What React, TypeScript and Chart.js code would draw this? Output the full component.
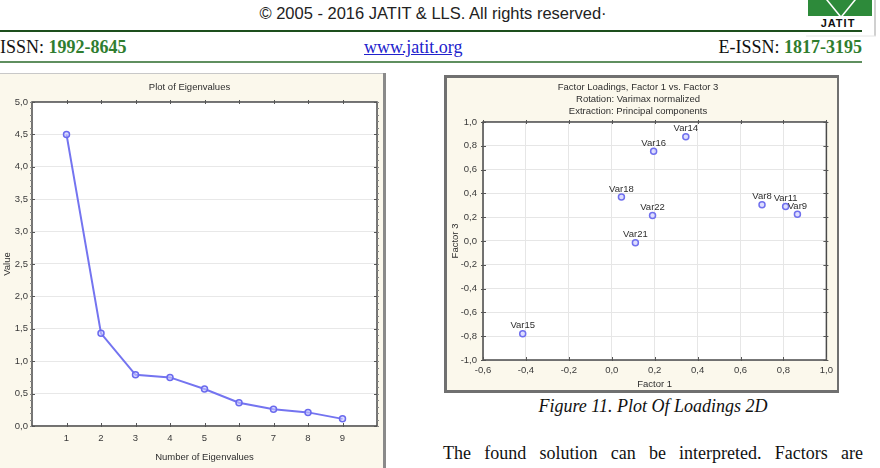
import React, { useEffect, useRef } from "react";
import { Chart, registerables } from "chart.js";

Chart.register(...registerables);

// ---------- Data ----------
const eigenNumbers = [1, 2, 3, 4, 5, 6, 7, 8, 9];
const eigenValues = [4.5, 1.43, 0.79, 0.75, 0.57, 0.36, 0.26, 0.21, 0.11];
const eigenXMin = 0;
const eigenXMax = 10;
const eigenYMin = 0;
const eigenYMax = 5;
const eigenYStep = 0.5;

const varNames = ["Var14", "Var16", "Var18", "Var22", "Var21", "Var8", "Var11", "Var9", "Var15"];
const factor1 = [0.345, 0.195, 0.045, 0.19, 0.11, 0.7, 0.81, 0.865, -0.415];
const factor3 = [0.875, 0.755, 0.37, 0.215, -0.015, 0.305, 0.29, 0.225, -0.78];
const loadXMin = -0.6;
const loadXMax = 1.0;
const loadYMin = -1.0;
const loadYMax = 1.0;
const loadStep = 0.2;

const loadTitleLines = [
  "Factor Loadings, Factor 1 vs. Factor 3",
  "Rotation: Varimax normalized",
  "Extraction: Principal components",
];

// ---------- Helpers ----------
const FONT = '"Liberation Sans", Arial, sans-serif';
const CF = { family: FONT, size: 9.5, lineHeight: 1.263 };
const TXT = "#2e2e2e";
const fmt = (v: number) => (Math.abs(v) < 1e-9 ? 0 : v).toFixed(1).replace(".", ",");

const makeFramePlugin = (minorY: number | null, xTickFilter: (v: number) => boolean) => ({
  id: "frame",
  beforeDatasetsDraw(chart: any) {
    const { ctx, chartArea: a } = chart;
    ctx.save();
    ctx.strokeStyle = "#4a4a4a";
    ctx.lineWidth = 1.5;
    ctx.strokeRect(a.left, a.top, a.width, a.height);
    ctx.lineWidth = 1;
    ctx.strokeStyle = "#555";
    const xs = chart.scales.x;
    const ys = chart.scales.y;
    xs.ticks.forEach((t: any) => {
      if (!xTickFilter(t.value)) return;
      const x = Math.round(xs.getPixelForValue(t.value)) + 0.5;
      ctx.beginPath();
      ctx.moveTo(x, a.top - 2);
      ctx.lineTo(x, a.top + 2);
      ctx.moveTo(x, a.bottom - 3);
      ctx.lineTo(x, a.bottom + 1);
      ctx.stroke();
    });
    ys.ticks.forEach((t: any) => {
      const y = Math.round(ys.getPixelForValue(t.value)) + 0.5;
      ctx.beginPath();
      ctx.moveTo(a.left - 2, y);
      ctx.lineTo(a.left + 3, y);
      ctx.moveTo(a.right - 3, y);
      ctx.lineTo(a.right + 2, y);
      ctx.stroke();
    });
    if (minorY) {
      ctx.strokeStyle = "#888";
      for (let v = ys.min; v <= ys.max + 1e-9; v += minorY) {
        const y = Math.round(ys.getPixelForValue(v)) + 0.5;
        ctx.beginPath();
        ctx.moveTo(a.left - 2, y);
        ctx.lineTo(a.left, y);
        ctx.moveTo(a.right, y);
        ctx.lineTo(a.right + 2, y);
        ctx.stroke();
      }
    }
    ctx.restore();
  },
});

const whiteAreaPlugin = {
  id: "whiteArea",
  beforeDraw(chart: any) {
    const { ctx, chartArea: a } = chart;
    ctx.save();
    ctx.fillStyle = "#ffffff";
    ctx.fillRect(a.left, a.top, a.width, a.height);
    ctx.restore();
  },
};

const pointLabelPlugin = {
  id: "pointLabels",
  afterDatasetsDraw(chart: any) {
    const { ctx } = chart;
    const meta = chart.getDatasetMeta(0);
    ctx.save();
    ctx.font = `9.5px ${FONT}`;
    ctx.fillStyle = TXT;
    ctx.textAlign = "center";
    ctx.textBaseline = "middle";
    meta.data.forEach((el: any, i: number) => {
      ctx.fillText(varNames[i], el.x, el.y - 8);
    });
    ctx.restore();
  },
};

function EigenChart() {
  const ref = useRef<HTMLCanvasElement | null>(null);
  useEffect(() => {
    if (!ref.current) return;
    const chart = new Chart(ref.current, {
      type: "line",
      data: {
        datasets: [
          {
            data: eigenNumbers.map((n, i) => ({ x: n, y: eigenValues[i] })),
            borderColor: "#7474f0",
            borderWidth: 2,
            pointRadius: 3,
            pointBorderWidth: 1.5,
            pointBorderColor: "#6a6aee",
            pointBackgroundColor: "rgba(200,200,255,0.6)",
            tension: 0,
          },
        ],
      },
      options: {
        animation: false,
        responsive: false,
        layout: { padding: { top: 0, right: 4, bottom: 0, left: 0 } },
        plugins: {
          legend: { display: false },
          tooltip: { enabled: false },
          title: {
            display: true,
            text: "Plot of Eigenvalues",
            color: TXT,
            font: { ...CF, weight: "normal" },
            padding: { top: 7, bottom: 9 },
          },
        },
        scales: {
          x: {
            type: "linear",
            min: eigenXMin,
            max: eigenXMax,
            afterFit: (s: any) => {
              s.height = 42;
            },
            ticks: {
              stepSize: 1,
              autoSkip: false,
              maxRotation: 0,
              padding: 6,
              color: "#3a3a3a",
              font: CF,
              callback: (v: any) => (v >= 1 && v <= 9 ? String(v) : ""),
            },
            grid: { display: true, color: "rgba(0,0,0,0)", drawTicks: false },
            border: { display: false },
            title: {
              display: true,
              text: "Number of Eigenvalues",
              color: TXT,
              font: CF,
              padding: { top: 0, bottom: 5 },
            },
          },
          y: {
            type: "linear",
            min: eigenYMin,
            max: eigenYMax,
            afterFit: (s: any) => {
              s.width = 32;
            },
            ticks: {
              stepSize: eigenYStep,
              padding: 4,
              color: "#3a3a3a",
              font: CF,
              callback: (v: any) => fmt(Number(v)),
            },
            grid: { color: "#e8e8e8", lineWidth: 1, drawTicks: false },
            border: { display: false },
            title: {
              display: true,
              text: "Value",
              color: TXT,
              font: CF,
              padding: { top: 1, bottom: 0 },
            },
          },
        },
      },
      plugins: [whiteAreaPlugin, makeFramePlugin(0.1, (v) => v >= 1 && v <= 9)],
    } as any);
    return () => chart.destroy();
  }, []);
  return (
    <canvas
      ref={ref}
      width={383}
      height={394}
      style={{ position: "absolute", left: 0, top: 74, width: 383, height: 394, background: "#fbf8ec" }}
    />
  );
}

function LoadingsChart() {
  const ref = useRef<HTMLCanvasElement | null>(null);
  useEffect(() => {
    if (!ref.current) return;
    const chart = new Chart(ref.current, {
      type: "scatter",
      data: {
        datasets: [
          {
            data: factor1.map((x, i) => ({ x, y: factor3[i] })),
            pointRadius: 3,
            pointBorderWidth: 1.5,
            pointBorderColor: "#7070ee",
            pointBackgroundColor: "rgba(200,200,255,0.6)",
            showLine: false,
          },
        ],
      },
      options: {
        animation: false,
        responsive: false,
        layout: { padding: { top: 0, right: 8, bottom: 0, left: 0 } },
        plugins: {
          legend: { display: false },
          tooltip: { enabled: false },
          title: {
            display: true,
            text: loadTitleLines,
            color: TXT,
            font: { ...CF, weight: "normal" },
            padding: { top: 3, bottom: 5 },
          },
        },
        scales: {
          x: {
            type: "linear",
            min: loadXMin,
            max: loadXMax,
            afterFit: (s: any) => {
              s.height = 30;
            },
            ticks: {
              stepSize: loadStep,
              autoSkip: false,
              maxRotation: 0,
              padding: 4,
              color: "#3a3a3a",
              font: CF,
              callback: (v: any) => fmt(Number(v)),
            },
            grid: { color: "#e6e6e6", lineWidth: 1, drawTicks: false },
            border: { display: false },
            title: {
              display: true,
              text: "Factor 1",
              color: TXT,
              font: CF,
              padding: { top: 0, bottom: 0 },
            },
          },
          y: {
            type: "linear",
            min: loadYMin,
            max: loadYMax,
            afterFit: (s: any) => {
              s.width = 36;
            },
            ticks: {
              stepSize: loadStep,
              padding: 6,
              color: "#3a3a3a",
              font: CF,
              callback: (v: any) => fmt(Number(v)),
            },
            grid: { color: "#e6e6e6", lineWidth: 1, drawTicks: false },
            border: { display: false },
            title: {
              display: true,
              text: "Factor 3",
              color: TXT,
              font: CF,
              padding: { top: 2, bottom: 0 },
            },
          },
        },
      },
      plugins: [whiteAreaPlugin, makeFramePlugin(null, () => true), pointLabelPlugin],
    } as any);
    return () => chart.destroy();
  }, []);
  return (
    <canvas
      ref={ref}
      width={390}
      height={312}
      style={{ position: "absolute", left: 447, top: 78, width: 390, height: 312, background: "#fbf8ec" }}
    />
  );
}

export default function App() {
  const serif = '"Liberation Serif", "Times New Roman", serif';
  const green = "#2f7d2f";
  return (
    <div
      style={{
        position: "fixed",
        left: 0,
        top: 0,
        width: 880,
        height: 468,
        overflow: "hidden",
        background: "#ffffff",
      }}
    >
      {/* Header */}
      <div
        style={{
          position: "absolute",
          left: 0,
          top: 3,
          width: 866,
          textAlign: "center",
          fontFamily: FONT,
          fontSize: 16.5,
          lineHeight: "20px",
          color: "#222",
        }}
      >
        © 2005 - 2016 JATIT &amp; LLS. All rights reserved·
      </div>
      {/* Logo */}
      <svg
        width={72}
        height={38}
        style={{ position: "absolute", left: 806, top: 0 }}
        viewBox="0 0 72 38"
      >
        <polygon points="22,0 48,0 35,16" fill="#2d8a3a" />
        <polygon points="2,0 20,0 33,16 2,16" fill="#2d8a3a" />
        <polygon points="50,0 66,0 66,16 37,16" fill="#2d8a3a" />
        <text x={32} y={27} textAnchor="middle" fontFamily={FONT} fontWeight="bold" fontSize={11} fill="#111" letterSpacing={1}>
          JATIT
        </text>
        <line x1={69} y1={0} x2={69} y2={36} stroke="#d0d0d0" strokeWidth={2} />
        <line x1={0} y1={36} x2={70} y2={36} stroke="#e4e4e4" strokeWidth={1} />
      </svg>
      <div style={{ position: "absolute", left: 0, top: 30, width: 862, height: 2, background: "#1d4f1d" }} />
      {/* ISSN row */}
      <div style={{ position: "absolute", left: 0, top: 36, fontFamily: serif, fontSize: 18, lineHeight: "22px", color: "#111" }}>
        ISSN: <span style={{ color: green, fontWeight: "bold" }}>1992-8645</span>
      </div>
      <div
        style={{
          position: "absolute",
          left: 364,
          top: 36,
          fontFamily: serif,
          fontSize: 18,
          lineHeight: "22px",
          color: "#2222cc",
          textDecoration: "underline",
        }}
      >
        www.jatit.org
      </div>
      <div
        style={{
          position: "absolute",
          right: 18,
          top: 36,
          fontFamily: serif,
          fontSize: 18,
          lineHeight: "22px",
          color: "#111",
          whiteSpace: "nowrap",
        }}
      >
        E-ISSN: <span style={{ color: green, fontWeight: "bold" }}>1817-3195</span>
      </div>
      <div style={{ position: "absolute", left: 0, top: 61, width: 862, height: 2, background: "#5f8f5f" }} />

      {/* Left panel */}
      <div style={{ position: "absolute", left: 0, top: 73, width: 383, height: 1, background: "#c8c8c8" }} />
      <div style={{ position: "absolute", left: 383, top: 73, width: 3, height: 395, background: "#8a8a8a" }} />
      <EigenChart />

      {/* Right panel */}
      <div
        style={{
          position: "absolute",
          left: 444,
          top: 75,
          width: 395,
          height: 318,
          boxSizing: "border-box",
          border: "3px solid #707070",
          background: "#fbf8ec",
        }}
      />
      <LoadingsChart />

      {/* Caption & paragraph */}
      <div
        style={{
          position: "absolute",
          left: 443,
          top: 395,
          width: 420,
          textAlign: "center",
          fontFamily: serif,
          fontStyle: "italic",
          fontSize: 18,
          lineHeight: "22px",
          color: "#111",
        }}
      >
        Figure 11. Plot Of Loadings 2D
      </div>
      <div
        style={{
          position: "absolute",
          left: 443,
          top: 442,
          width: 420,
          textAlign: "justify",
          textAlignLast: "justify" as any,
          fontFamily: serif,
          fontSize: 18,
          lineHeight: "22px",
          color: "#111",
          whiteSpace: "nowrap",
        }}
      >
        The found solution can be interpreted. Factors are
      </div>
    </div>
  );
}
